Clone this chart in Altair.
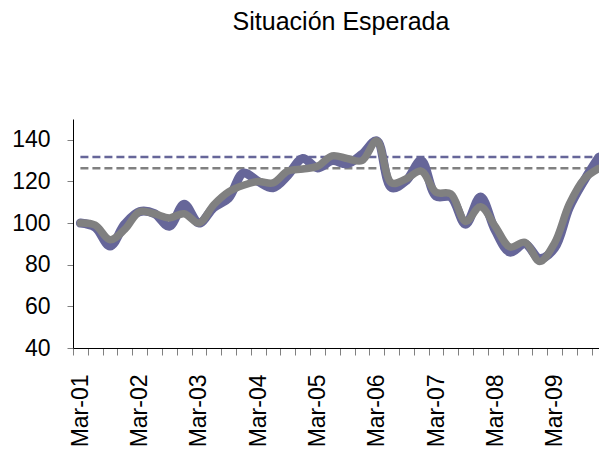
import json
import altair as alt
import pandas as pd

quarters = [
    "Mar-01", "Jun-01", "Sep-01", "Dec-01",
    "Mar-02", "Jun-02", "Sep-02", "Dec-02",
    "Mar-03", "Jun-03", "Sep-03", "Dec-03",
    "Mar-04", "Jun-04", "Sep-04", "Dec-04",
    "Mar-05", "Jun-05", "Sep-05", "Dec-05",
    "Mar-06", "Jun-06", "Sep-06", "Dec-06",
    "Mar-07", "Jun-07", "Sep-07", "Dec-07",
    "Mar-08", "Jun-08", "Sep-08", "Dec-08",
    "Mar-09", "Jun-09", "Sep-09", "Dec-09",
]

blue = [100, 98, 89, 99.5, 105.5, 104.5, 98.5, 109, 100, 107.5,
        112, 124, 120, 117, 123, 131, 126.5, 130, 128.5, 133,
        139.5, 117, 120.5, 130, 113, 112.5, 99.5, 112.5, 96.5, 86,
        90, 83, 88, 107.5, 120.5, 131.7]

gray = [100, 99, 92, 97, 105.5, 104.5, 102.5, 104.5, 100, 108.8,
        115, 118.2, 120, 119.3, 125, 126, 127.3, 132.3, 131, 130,
        139.5, 119.3, 121.3, 125, 114.8, 114, 100.8, 107.8, 98.4, 88.5,
        90.8, 81.6, 90.4, 109.2, 121.2, 126.3]

idx = list(range(len(quarters)))
df = pd.DataFrame({"i": idx, "q": quarters, "blue": blue, "gray": gray})
ref_blue = pd.DataFrame({"i": [idx[0], idx[-1]], "v": [blue[-1], blue[-1]]})
ref_gray = pd.DataFrame({"i": [idx[0], idx[-1]], "v": [gray[-1], gray[-1]]})

FONT = "Liberation Sans"
BLUE = "#666699"
GRAY = "#808080"

tick_values = [k - 0.5 for k in idx]
label_expr = ("(datum.value + 0.5) % 4 == 0 ? " + json.dumps(quarters)
              + "[datum.value + 0.5] : ''")

x_scale = alt.Scale(domain=[-0.5, 35], nice=False, zero=False)
y_scale = alt.Scale(domain=[40, 150], nice=False, zero=False)

x_axis = alt.Axis(
    values=tick_values, labelExpr=label_expr, title=None, grid=False,
    tickSize=7, tickColor="#808080", domainColor="#000000",
    labelAngle=270, labelAlign="right", labelBaseline="middle",
    labelOffset=7.4, labelPadding=19, labelFont=FONT, labelFontSize=23,
    labelColor="#000000", labelOverlap=False, labelBound=False,
    labelFlush=False,
)
y_axis = alt.Axis(
    values=[40, 60, 80, 100, 120, 140], title=None, grid=False,
    tickSize=6, tickColor="#808080", domainColor="#000000",
    labelPadding=17, labelFont=FONT, labelFontSize=23, labelColor="#000000",
)


def xenc():
    return alt.X("i:Q", scale=x_scale, axis=x_axis)


dash_b = alt.Chart(ref_blue).mark_line(
    color=BLUE, strokeWidth=2.5, strokeDash=[8, 4]
).encode(x=xenc(), y=alt.Y("v:Q", scale=y_scale, axis=y_axis))

dash_g = alt.Chart(ref_gray).mark_line(
    color=GRAY, strokeWidth=2.5, strokeDash=[8, 4]
).encode(x=xenc(), y=alt.Y("v:Q", scale=y_scale, axis=y_axis))

line_b = alt.Chart(df).mark_line(
    color=BLUE, strokeWidth=9, interpolate="catmull-rom",
    strokeCap="round", strokeJoin="round"
).encode(x=xenc(), y=alt.Y("blue:Q", scale=y_scale, axis=y_axis))

line_g = alt.Chart(df).mark_line(
    color=GRAY, strokeWidth=7.5, interpolate="catmull-rom",
    strokeCap="round", strokeJoin="round"
).encode(x=xenc(), y=alt.Y("gray:Q", scale=y_scale, axis=y_axis))

chart = alt.layer(dash_b, dash_g, line_b, line_g).properties(
    width=526,
    height=229,
    autosize=alt.AutoSizeParams(type="none"),
    padding={"left": 65, "top": 111, "right": 0, "bottom": 100},
    title=alt.TitleParams(
        "Situación Esperada", font=FONT, fontSize=25, fontWeight="normal",
        color="#000000", anchor="middle", baseline="alphabetic", offset=64, dx=5,
    ),
    background="#ffffff",
).configure_view(stroke=None)

chart.save("out.html", embed_options={"renderer": "svg", "actions": False})
